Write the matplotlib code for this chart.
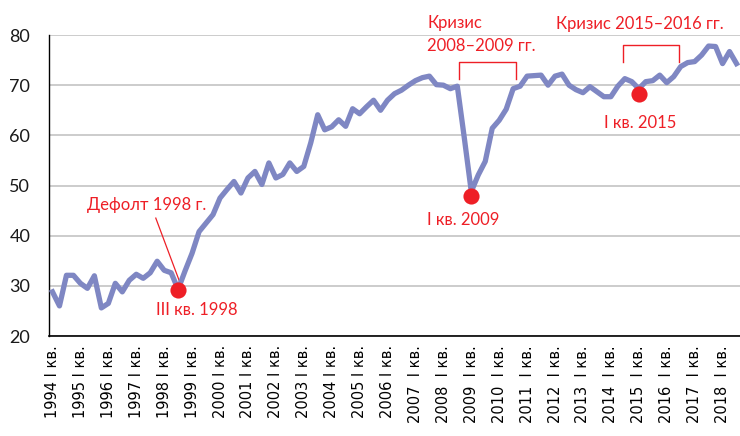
import numpy as np
import matplotlib.pyplot as plt

# quarterly series, 1994 Q1 .. 2018 Q3
values = [
    28.8, 26.0, 32.1, 32.1,   # 1994
    30.5, 29.5, 32.0, 25.6,   # 1995
    26.5, 30.5, 28.8, 31.1,   # 1996
    32.3, 31.5, 32.6, 34.9,   # 1997
    33.1, 32.6, 29.3, 33.0,   # 1998
    36.5, 40.8, 42.5, 44.2,   # 1999
    47.5, 49.2, 50.8, 48.5,   # 2000
    51.5, 52.8, 50.2, 54.5,   # 2001
    51.5, 52.2, 54.5, 52.8,   # 2002
    53.8, 58.5, 64.1, 61.1,   # 2003
    61.7, 63.1, 61.8, 65.3,   # 2004
    64.3, 65.7, 67.0, 65.0,   # 2005
    67.0, 68.3, 69.0, 70.0,   # 2006
    70.9, 71.5, 71.8, 70.1,   # 2007
    70.0, 69.3, 69.8, 59.5,   # 2008
    48.8, 52.1, 54.8, 61.4,   # 2009
    63.0, 65.2, 69.3, 69.8,   # 2010
    71.8, 71.9, 72.0, 70.0,   # 2011
    71.8, 72.2, 70.0, 69.1,   # 2012
    68.5, 69.7, 68.7, 67.7,   # 2013
    67.7, 69.8, 71.3, 70.7,   # 2014
    69.3, 70.7, 70.9, 72.0,   # 2015
    70.5, 71.7, 73.7, 74.5,   # 2016
    74.7, 76.0, 77.8, 77.7,   # 2017
    74.3, 76.7, 74.3,         # 2018
]

label_years = list(range(1994, 2019))
tick_labels = [f"{y} I кв." if y < 2007 else f"{y}  I кв." for y in label_years]

dot_quarters = [18, 60, 84]
dot_values = [29.2, 48.0, 68.2]
dot_labels = ["III кв. 1998", "I кв. 2009", "I кв. 2015"]

red = '#ee1f26'
plt.rcParams['font.family'] = ['Lato', 'DejaVu Sans']

fig = plt.figure(figsize=(7.4, 4.36), dpi=100)
ax = fig.add_axes([49/740, 1 - 336/436, 691/740, 301/436])

x = np.arange(len(values))
ax.plot(x, values, color='#7f87c3', lw=3.8, solid_joinstyle='round', zorder=3)
ax.scatter(dot_quarters, dot_values, s=135, color=red, zorder=4, linewidths=0)

ax.set_xlim(-0.5, len(values) - 0.5)
ax.set_ylim(20, 80)
ax.set_yticks(range(20, 81, 10))
ax.tick_params(axis='y', length=0, pad=13.5, labelsize=13, labelcolor='#1a1a1a')
ax.set_xticks(np.arange(0, len(values), 4))
ax.set_xticklabels(tick_labels, rotation=90, fontsize=10.5, family='DejaVu Sans')
ax.tick_params(axis='x', length=0, pad=6.5)

ax.yaxis.grid(True, color='#bfbfbf', lw=1.1)
ax.set_axisbelow(True)
for s in ['top', 'right']:
    ax.spines[s].set_visible(False)
ax.spines['left'].set_linewidth(1.0)
ax.spines['bottom'].set_linewidth(1.2)

# annotations
ax.text(13.5, 46.1, "Дефолт 1998 г.", color=red, fontsize=12, ha='center', va='center')
ax.plot([14.8, 18.3], [43.5, 30.5], color=red, lw=0.9, zorder=2)
ax.text(20.7, 25.2, dot_labels[0], color=red, fontsize=12, ha='center', va='center')
ax.text(58.9, 43.1, dot_labels[1], color=red, fontsize=12, ha='center', va='center')
ax.text(84.2, 62.4, dot_labels[2], color=red, fontsize=12, ha='center', va='center')

ax.text(53.7, 82.3, "Кризис", color=red, fontsize=12, ha='left', va='center', clip_on=False)
ax.text(53.7, 77.9, "2008–2009 гг.", color=red, fontsize=12, ha='left', va='center', clip_on=False)
ax.plot([58.2, 58.2, 66.4, 66.4], [71.2, 74.6, 74.6, 71.2], color=red, lw=1.0, zorder=2)

ax.text(72.1, 82.1, "Кризис 2015–2016 гг.", color=red, fontsize=12, ha='left', va='center', clip_on=False)
ax.plot([81.7, 81.7, 89.8, 89.8], [74.6, 78.0, 78.0, 74.6], color=red, lw=1.0, zorder=2)

fig.savefig('out.png', dpi=100)
